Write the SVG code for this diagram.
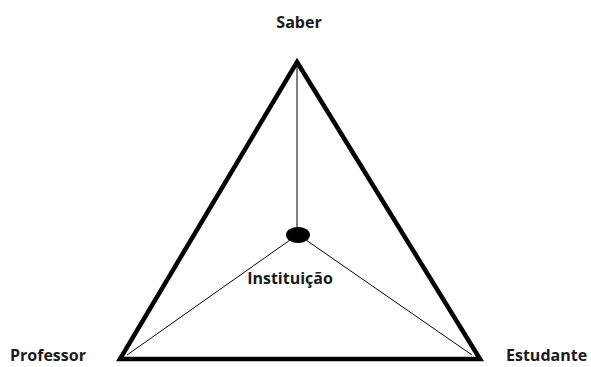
<svg xmlns="http://www.w3.org/2000/svg" width="591" height="367" viewBox="0 0 591 367">
<style>
.lbl{font-family:"Open Sans","Liberation Sans",sans-serif;font-weight:bold;font-size:16px;fill:#1a1a1a}
.thick{fill:none;stroke:#000;stroke-width:4.5;stroke-linejoin:miter}
.thin{fill:none;stroke:#000;stroke-width:1}
</style>
<rect width="591" height="367" fill="#fff"/>
<g id="triangle"><polygon class="thick" points="297,62 480,359 120,359"/></g>
<g id="connectors">
<line class="thin" x1="297" y1="64" x2="297" y2="230" stroke-width="1.5"/>
<line class="thin" x1="290" y1="240" x2="127" y2="355"/>
<line class="thin" x1="306" y1="240" x2="472" y2="355"/>
</g>
<g id="instituicao"><ellipse cx="298" cy="235" rx="12" ry="8" fill="#000"/><text class="lbl" x="290" y="284" text-anchor="middle">Instituição</text></g>
<g id="saber"><text class="lbl" x="299" y="28" text-anchor="middle">Saber</text></g>
<g id="professor"><text class="lbl" x="10" y="361">Professor</text></g>
<g id="estudante"><text class="lbl" x="506" y="361">Estudante</text></g>
</svg>
